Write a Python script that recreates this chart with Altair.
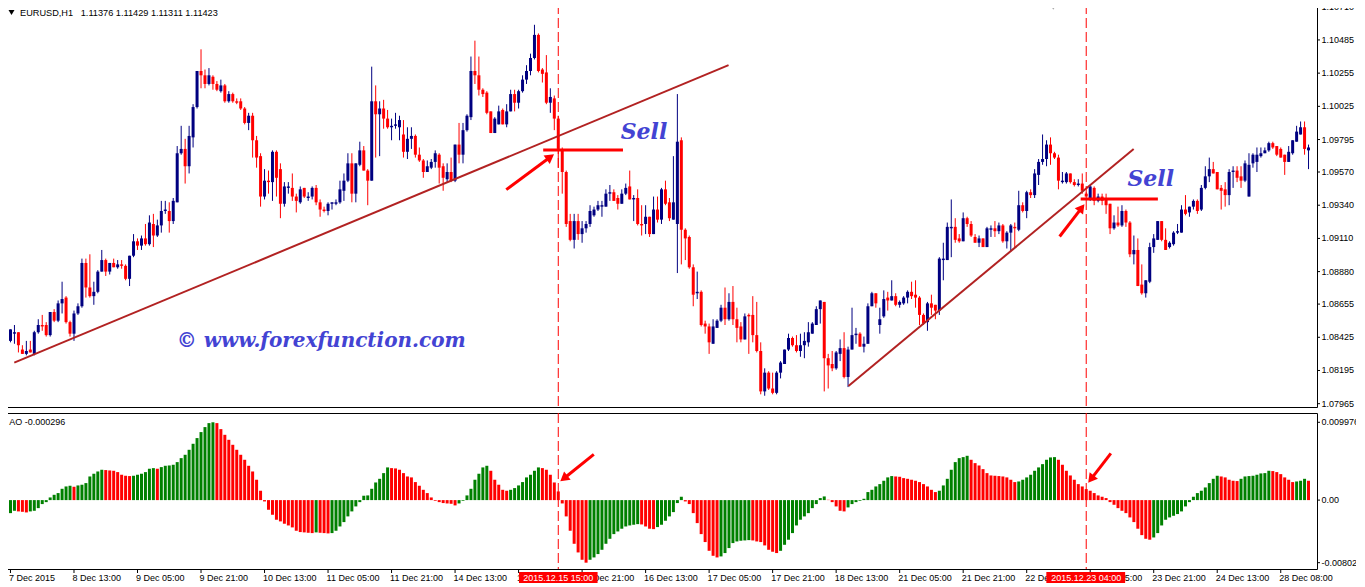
import altair as alt
import pandas as pd

# ---------------- price data (EURUSD H1), bar index 0..327 ----------------
opens = [
1.0840,1.0845,1.0846,1.0834,1.0831,1.0834,1.0831,1.0846,1.0851,1.0851,
1.0844,1.0860,1.0854,1.0866,1.0870,1.0853,1.0845,1.0859,1.0864,1.0894,
1.0877,1.0871,1.0874,1.0888,1.0896,1.0888,1.0894,1.0891,1.0893,1.0892,
1.0883,1.0899,1.0909,1.0906,1.0911,1.0907,1.0921,1.0913,1.0920,1.0930,
1.0930,1.0923,1.0936,1.0970,1.0973,1.0961,1.0981,1.1002,1.1027,1.1024,
1.1018,1.1023,1.1018,1.1013,1.1017,1.1006,1.1011,1.1006,1.1006,1.1001,
1.0991,1.0996,1.0979,1.0968,1.0940,1.0951,1.0950,1.0971,1.0959,1.0935,
1.0946,1.0946,1.0940,1.0936,1.0946,1.0939,1.0940,1.0946,1.0936,1.0931,
1.0930,1.0935,1.0935,1.0936,1.0944,1.0951,1.0963,1.0942,1.0962,1.0972,
1.0958,1.0951,1.1006,1.0997,1.1001,1.0994,1.0988,1.0989,1.0988,1.0983,
1.0971,1.0980,1.0982,1.0969,1.0965,1.0957,1.0960,1.0964,1.0969,1.0961,
1.0952,1.0957,1.0951,1.0976,1.0969,1.0986,1.0995,1.1027,1.1024,1.1014,
1.1012,1.0999,1.0984,1.0990,1.1000,1.0990,1.0999,1.1011,1.1005,1.1013,
1.1021,1.1027,1.1036,1.1052,1.1028,1.1026,1.1005,1.1008,1.0994,1.0972,
1.0957,1.0923,1.0910,1.0923,1.0914,1.0918,1.0921,1.0927,1.0931,1.0933,
1.0933,1.0942,1.0943,1.0939,1.0935,1.0942,1.0947,1.0938,1.0939,1.0921,
1.0921,1.0926,1.0914,1.0931,1.0924,1.0945,1.0936,1.0924,1.0921,1.0979,
1.0917,1.0912,1.0891,1.0873,1.0874,1.0852,1.0850,1.0838,1.0849,1.0854,
1.0863,1.0855,1.0867,1.0855,1.0850,1.0841,1.0858,1.0858,1.0844,1.0833,
1.0805,1.0818,1.0807,1.0804,1.0818,1.0824,1.0834,1.0842,1.0837,1.0833,
1.0837,1.0839,1.0845,1.0851,1.0862,1.0867,1.0828,1.0824,1.0821,1.0831,
1.0835,1.0815,1.0834,1.0844,1.0845,1.0836,1.0838,1.0864,1.0873,1.0851,
1.0857,1.0870,1.0868,1.0871,1.0865,1.0866,1.0870,1.0874,1.0872,1.0870,
1.0858,1.0853,1.0866,1.0865,1.0861,1.0896,1.0896,1.0918,1.0919,1.0911,
1.0909,1.0925,1.0921,1.0912,1.0908,1.0911,1.0905,1.0917,1.0918,1.0916,
1.0920,1.0909,1.0915,1.0919,1.0917,1.0934,1.0930,1.0943,1.0941,1.0955,
1.0964,1.0966,1.0976,1.0970,1.0967,1.0950,1.0950,1.0956,1.0950,1.0948,
1.0949,1.0942,1.0938,1.0946,1.0937,1.0940,1.0938,1.0935,1.0918,1.0922,
1.0920,1.0930,1.0922,1.0900,1.0903,1.0879,1.0873,1.0881,1.0905,1.0910,
1.0923,1.0910,1.0905,1.0907,1.0915,1.0915,1.0931,1.0929,1.0933,1.0937,
1.0931,1.0946,1.0954,1.0959,1.0957,1.0946,1.0945,1.0941,1.0957,1.0958,
1.0954,1.0951,1.0940,1.0963,1.0964,1.0968,1.0970,1.0972,1.0977,1.0975,
1.0973,1.0969,1.0964,1.0970,1.0978,1.0983,1.0988,1.0972]

highs = [
1.0848,1.0851,1.0846,1.0837,1.0840,1.0840,1.0847,1.0855,1.0858,1.0853,
1.0860,1.0862,1.0868,1.0881,1.0871,1.0854,1.0861,1.0866,1.0897,1.0897,
1.0900,1.0881,1.0889,1.0903,1.0897,1.0894,1.0897,1.0896,1.0896,1.0893,
1.0899,1.0914,1.0911,1.0913,1.0921,1.0927,1.0928,1.0924,1.0937,1.0937,
1.0936,1.0939,1.0975,1.0989,1.0980,1.0989,1.1004,1.1027,1.1042,1.1028,
1.1029,1.1024,1.1020,1.1021,1.1018,1.1013,1.1012,1.1008,1.1008,1.1002,
1.0998,1.0998,1.0982,1.0970,1.0959,1.0958,1.0972,1.0972,1.0963,1.0950,
1.0950,1.0956,1.0942,1.0947,1.0946,1.0943,1.0947,1.0948,1.0938,1.0933,
1.0936,1.0936,1.0938,1.0951,1.0956,1.0970,1.0970,1.0963,1.0978,1.0975,
1.0959,1.1030,1.1017,1.1006,1.1007,1.1000,1.0994,1.0998,1.0996,1.0993,
1.0988,1.0988,1.0983,1.0974,1.0966,1.0965,1.0966,1.0972,1.0970,1.0963,
1.0963,1.0967,1.0976,1.0991,1.0991,1.0997,1.1037,1.1048,1.1037,1.1015,
1.1013,1.0999,1.0995,1.1003,1.1001,1.1004,1.1014,1.1014,1.1014,1.1024,
1.1031,1.1039,1.1059,1.1053,1.1029,1.1038,1.1015,1.1010,1.0996,1.0974,
1.0958,1.0928,1.0928,1.0928,1.0923,1.0923,1.0934,1.0933,1.0937,1.0937,
1.0945,1.0948,1.0945,1.0941,1.0945,1.0949,1.0958,1.0941,1.0945,1.0934,
1.0934,1.0926,1.0940,1.0940,1.0946,1.0951,1.0939,1.0968,1.1011,1.0981,
1.0918,1.0913,1.0893,1.0888,1.0875,1.0854,1.0852,1.0855,1.0855,1.0865,
1.0877,1.0873,1.0878,1.0863,1.0853,1.0859,1.0859,1.0871,1.0867,1.0839,
1.0821,1.0819,1.0818,1.0819,1.0826,1.0834,1.0845,1.0843,1.0844,1.0845,
1.0846,1.0853,1.0853,1.0864,1.0868,1.0867,1.0831,1.0833,1.0833,1.0841,
1.0846,1.0836,1.0863,1.0849,1.0846,1.0843,1.0866,1.0874,1.0873,1.0863,
1.0875,1.0874,1.0882,1.0873,1.0868,1.0871,1.0875,1.0881,1.0882,1.0871,
1.0859,1.0867,1.0872,1.0865,1.0898,1.0908,1.0922,1.0938,1.0925,1.0914,
1.0929,1.0926,1.0923,1.0914,1.0913,1.0911,1.0919,1.0920,1.0923,1.0922,
1.0921,1.0916,1.0921,1.0922,1.0944,1.0936,1.0944,1.0945,1.0959,1.0966,
1.0983,1.0979,1.0981,1.0971,1.0969,1.0957,1.0957,1.0956,1.0952,1.0952,
1.0956,1.0943,1.0948,1.0947,1.0942,1.0942,1.0942,1.0935,1.0927,1.0933,
1.0934,1.0931,1.0923,1.0913,1.0911,1.0893,1.0882,1.0908,1.0914,1.0923,
1.0923,1.0918,1.0909,1.0916,1.0921,1.0934,1.0941,1.0933,1.0938,1.0938,
1.0948,1.0961,1.0967,1.0964,1.0957,1.0948,1.0950,1.0959,1.0961,1.0961,
1.0961,1.0965,1.0970,1.0970,1.0974,1.0974,1.0974,1.0978,1.0978,1.0975,
1.0974,1.0969,1.0975,1.0979,1.0989,1.0992,1.0992,1.0976]

lows = [
1.0839,1.0838,1.0832,1.0831,1.0830,1.0832,1.0830,1.0845,1.0847,1.0843,
1.0843,1.0853,1.0853,1.0859,1.0852,1.0843,1.0840,1.0858,1.0863,1.0870,
1.0870,1.0865,1.0873,1.0888,1.0885,1.0886,1.0891,1.0890,1.0890,1.0882,
1.0878,1.0898,1.0903,1.0903,1.0906,1.0906,1.0905,1.0912,1.0915,1.0928,
1.0915,1.0921,1.0936,1.0969,1.0949,1.0956,1.0974,1.1001,1.1015,1.1015,
1.1017,1.1014,1.1013,1.1012,1.1005,1.1005,1.1005,1.1004,1.1000,1.0990,
1.0986,1.0967,1.0960,1.0933,1.0938,1.0942,1.0937,1.0940,1.0925,1.0933,
1.0942,1.0937,1.0929,1.0935,1.0939,1.0937,1.0938,1.0934,1.0926,1.0929,
1.0927,1.0931,1.0934,1.0935,1.0937,1.0950,1.0936,1.0936,1.0961,1.0958,
1.0934,1.0951,1.0967,1.0968,1.0987,1.0987,1.0979,1.0987,1.0979,1.0967,
1.0966,1.0973,1.0967,1.0964,1.0953,1.0957,1.0959,1.0960,1.0949,1.0944,
1.0950,1.0950,1.0950,1.0963,1.0963,1.0985,1.0993,1.1018,1.1010,1.1009,
1.0997,1.0984,1.0984,1.0990,1.0990,1.0988,1.0999,1.0999,1.1001,1.1012,
1.1018,1.1024,1.1035,1.1026,1.1019,1.1004,1.0998,1.0986,1.0960,1.0942,
1.0919,1.0909,1.0904,1.0910,1.0908,1.0915,1.0919,1.0926,1.0930,1.0926,
1.0933,1.0937,1.0937,1.0931,1.0935,1.0941,1.0938,1.0923,1.0920,1.0913,
1.0914,1.0912,1.0914,1.0922,1.0921,1.0934,1.0923,1.0924,1.0887,1.0893,
1.0896,1.0890,1.0864,1.0869,1.0850,1.0845,1.0831,1.0838,1.0849,1.0853,
1.0851,1.0854,1.0851,1.0839,1.0839,1.0841,1.0831,1.0839,1.0832,1.0803,
1.0802,1.0806,1.0803,1.0803,1.0814,1.0824,1.0833,1.0836,1.0832,1.0829,
1.0828,1.0836,1.0845,1.0851,1.0852,1.0805,1.0807,1.0819,1.0820,1.0826,
1.0814,1.0808,1.0834,1.0838,1.0836,1.0832,1.0838,1.0864,1.0863,1.0845,
1.0856,1.0861,1.0868,1.0864,1.0863,1.0865,1.0866,1.0869,1.0863,1.0851,
1.0851,1.0847,1.0858,1.0855,1.0858,1.0882,1.0896,1.0898,1.0908,1.0908,
1.0909,1.0919,1.0912,1.0908,1.0905,1.0905,1.0905,1.0912,1.0912,1.0914,
1.0908,1.0904,1.0902,1.0905,1.0916,1.0929,1.0925,1.0939,1.0939,1.0948,
1.0962,1.0961,1.0962,1.0966,1.0945,1.0949,1.0949,1.0949,1.0947,1.0947,
1.0942,1.0938,1.0937,1.0934,1.0936,1.0934,1.0928,1.0914,1.0917,1.0919,
1.0919,1.0919,1.0898,1.0893,1.0878,1.0872,1.0870,1.0880,1.0901,1.0910,
1.0909,1.0903,1.0904,1.0906,1.0914,1.0915,1.0927,1.0926,1.0931,1.0928,
1.0930,1.0945,1.0950,1.0956,1.0945,1.0931,1.0933,1.0934,1.0946,1.0950,
1.0946,1.0950,1.0940,1.0960,1.0957,1.0967,1.0970,1.0971,1.0973,1.0968,
1.0967,1.0955,1.0964,1.0969,1.0978,1.0983,1.0969,1.0959]

closes = [
1.0848,1.0846,1.0837,1.0831,1.0833,1.0832,1.0846,1.0851,1.0850,1.0844,
1.0860,1.0854,1.0866,1.0869,1.0853,1.0845,1.0859,1.0864,1.0894,1.0877,
1.0871,1.0874,1.0888,1.0896,1.0888,1.0894,1.0891,1.0893,1.0892,1.0883,
1.0899,1.0909,1.0906,1.0911,1.0907,1.0922,1.0913,1.0920,1.0930,1.0931,
1.0923,1.0937,1.0970,1.0973,1.0961,1.0982,1.1002,1.1027,1.1024,1.1018,
1.1024,1.1018,1.1014,1.1017,1.1006,1.1011,1.1006,1.1005,1.1001,1.0991,
1.0996,1.0979,1.0967,1.0940,1.0951,1.0950,1.0971,1.0953,1.0935,1.0947,
1.0947,1.0940,1.0937,1.0945,1.0940,1.0940,1.0946,1.0936,1.0931,1.0930,
1.0935,1.0936,1.0936,1.0945,1.0951,1.0963,1.0942,1.0963,1.0972,1.0958,
1.0951,1.1006,1.0997,1.1001,1.0994,1.0988,1.0989,1.0990,1.0993,1.0971,
1.0980,1.0982,1.0969,1.0965,1.0957,1.0961,1.0964,1.0970,1.0960,1.0953,
1.0957,1.0951,1.0976,1.0969,1.0986,1.0996,1.1027,1.1024,1.1014,1.1011,
1.0998,1.0984,1.0994,1.0999,1.0990,1.0999,1.1011,1.1005,1.1013,1.1021,
1.1027,1.1036,1.1052,1.1027,1.1025,1.1005,1.1009,1.0994,1.0973,1.0957,
1.0921,1.0910,1.0923,1.0914,1.0918,1.0921,1.0930,1.0931,1.0934,1.0934,
1.0942,1.0943,1.0937,1.0935,1.0942,1.0946,1.0938,1.0939,1.0921,1.0920,
1.0926,1.0914,1.0931,1.0924,1.0945,1.0935,1.0925,1.0936,1.0978,1.0917,
1.0911,1.0891,1.0872,1.0874,1.0851,1.0850,1.0839,1.0850,1.0854,1.0863,
1.0855,1.0867,1.0855,1.0849,1.0841,1.0857,1.0857,1.0844,1.0833,1.0805,
1.0818,1.0807,1.0804,1.0818,1.0825,1.0834,1.0842,1.0837,1.0833,1.0837,
1.0840,1.0846,1.0852,1.0862,1.0868,1.0828,1.0823,1.0821,1.0832,1.0835,
1.0815,1.0834,1.0844,1.0845,1.0836,1.0838,1.0864,1.0873,1.0866,1.0855,
1.0869,1.0868,1.0871,1.0865,1.0867,1.0870,1.0874,1.0871,1.0870,1.0858,
1.0852,1.0866,1.0863,1.0861,1.0897,1.0897,1.0919,1.0919,1.0910,1.0909,
1.0925,1.0921,1.0913,1.0908,1.0911,1.0905,1.0918,1.0918,1.0916,1.0920,
1.0909,1.0915,1.0920,1.0918,1.0934,1.0930,1.0943,1.0941,1.0956,1.0964,
1.0966,1.0976,1.0970,1.0967,1.0951,1.0951,1.0956,1.0950,1.0948,1.0949,
1.0944,1.0940,1.0947,1.0937,1.0940,1.0937,1.0934,1.0918,1.0922,1.0920,
1.0930,1.0922,1.0900,1.0903,1.0878,1.0873,1.0882,1.0905,1.0911,1.0923,
1.0910,1.0903,1.0908,1.0915,1.0916,1.0931,1.0928,1.0933,1.0937,1.0930,
1.0946,1.0954,1.0959,1.0956,1.0945,1.0944,1.0941,1.0957,1.0958,1.0953,
1.0951,1.0963,1.0962,1.0969,1.0969,1.0970,1.0972,1.0977,1.0974,1.0969,
1.0967,1.0964,1.0971,1.0979,1.0985,1.0988,1.0973,1.0974]

# ---------------- Awesome Oscillator values ----------------
ao = [
-0.00167,-0.00137,-0.00145,-0.00150,-0.00158,-0.00145,-0.00137,-0.00103,-0.00051,-0.00026,
0.00034,0.00068,0.00090,0.00145,0.00175,0.00184,0.00171,0.00188,0.00197,0.00218,
0.00303,0.00338,0.00367,0.00389,0.00385,0.00380,0.00376,0.00359,0.00325,0.00312,
0.00308,0.00312,0.00325,0.00338,0.00359,0.00402,0.00410,0.00402,0.00423,0.00440,
0.00444,0.00453,0.00487,0.00538,0.00581,0.00645,0.00722,0.00795,0.00872,0.00936,
0.00987,0.009976,0.00987,0.00910,0.00837,0.00773,0.00709,0.00645,0.00581,0.00517,
0.00440,0.00367,0.00261,0.00120,-0.00017,-0.00124,-0.00188,-0.00252,-0.00273,-0.00303,
-0.00325,-0.00350,-0.00393,-0.00410,-0.00414,-0.00419,-0.00423,-0.00414,-0.00419,-0.00423,
-0.00427,-0.00423,-0.00393,-0.00338,-0.00282,-0.00209,-0.00145,-0.00081,-0.00026,0.00056,
0.00060,0.00145,0.00226,0.00273,0.00346,0.00419,0.00410,0.00406,0.00389,0.00346,
0.00303,0.00291,0.00231,0.00184,0.00132,0.00090,0.00034,-0.00009,-0.00026,-0.00038,
-0.00043,-0.00047,-0.00068,-0.00043,-0.00009,0.00060,0.00145,0.00261,0.00338,0.00419,
0.00440,0.00376,0.00261,0.00197,0.00132,0.00120,0.00132,0.00154,0.00188,0.00231,
0.00291,0.00325,0.00376,0.00419,0.00410,0.00389,0.00325,0.00226,0.00111,-0.00043,
-0.00209,-0.00393,-0.00560,-0.00671,-0.00765,-0.008023,-0.00765,-0.00735,-0.00692,-0.00637,
-0.00560,-0.00496,-0.00436,-0.00402,-0.00367,-0.00338,-0.00325,-0.00316,-0.00308,-0.00312,
-0.00338,-0.00367,-0.00372,-0.00346,-0.00316,-0.00265,-0.00209,-0.00154,-0.00038,0.00043,
-0.00017,-0.00051,-0.00167,-0.00295,-0.00436,-0.00538,-0.00650,-0.00714,-0.00735,-0.00722,
-0.00679,-0.00615,-0.00551,-0.00530,-0.00521,-0.00517,-0.00513,-0.00517,-0.00530,-0.00538,
-0.00581,-0.00637,-0.00662,-0.00679,-0.00650,-0.00573,-0.00508,-0.00423,-0.00325,-0.00252,
-0.00209,-0.00167,-0.00103,-0.00051,0.00026,0.00047,0.00004,-0.00026,-0.00081,-0.00137,
-0.00145,-0.00094,-0.00051,-0.00026,-0.00009,0.00017,0.00103,0.00132,0.00175,0.00205,
0.00248,0.00291,0.00308,0.00303,0.00299,0.00282,0.00273,0.00261,0.00248,0.00231,
0.00205,0.00175,0.00132,0.00103,0.00120,0.00188,0.00273,0.00389,0.00487,0.00538,
0.00551,0.00568,0.00517,0.00474,0.00444,0.00397,0.00346,0.00316,0.00312,0.00308,
0.00303,0.00291,0.00261,0.00231,0.00239,0.00261,0.00291,0.00325,0.00376,0.00419,
0.00461,0.00517,0.00547,0.00551,0.00517,0.00453,0.00376,0.00316,0.00261,0.00205,
0.00175,0.00141,0.00120,0.00090,0.00060,0.00043,0.00026,-0.00026,-0.00060,-0.00103,
-0.00137,-0.00167,-0.00222,-0.00282,-0.00367,-0.00449,-0.00496,-0.00508,-0.00479,-0.00423,
-0.00325,-0.00252,-0.00222,-0.00201,-0.00179,-0.00145,-0.00081,-0.00026,0.00043,0.00090,
0.00120,0.00162,0.00218,0.00273,0.00312,0.00303,0.00291,0.00261,0.00248,0.00244,
0.00273,0.00303,0.00308,0.00312,0.00325,0.00342,0.00346,0.00376,0.00372,0.00359,
0.00333,0.00291,0.00261,0.00231,0.00239,0.00248,0.00273,0.00248]

# ---------------- axis ticks / labels ----------------
time_tick_bars = list(range(0, 321, 16))
time_labels = ["7 Dec 2015", "8 Dec 13:00", "9 Dec 05:00", "9 Dec 21:00", "10 Dec 13:00",
               "11 Dec 05:00", "11 Dec 21:00", "14 Dec 13:00", "15 Dec 05:00", "15 Dec 21:00",
               "16 Dec 13:00", "17 Dec 05:00", "17 Dec 21:00", "18 Dec 13:00", "21 Dec 05:00",
               "21 Dec 21:00", "22 Dec 13:00", "23 Dec 05:00", "23 Dec 21:00", "24 Dec 13:00",
               "28 Dec 08:00"]
price_ticks = [1.10710, 1.10485, 1.10255, 1.10025, 1.09795, 1.09570, 1.09340,
               1.09110, 1.08880, 1.08655, 1.08425, 1.08195, 1.07965]
ao_ticks = [0.009976, 0.0, -0.008023]
ao_tick_labels = ["0.009976", "0.00", "-0.008023"]

# ---------------- annotations ----------------
trend_x1 = [0.95, 211.1]
trend_y1 = [1.08249, 1.08087]
trend_x2 = [180.9, 282.95]
trend_y2 = [1.10311, 1.09730]

sell_x1 = [134.2, 269.6]
sell_x2 = [154.3, 289.05]
sell_price = [1.09723, 1.09383]

sell_text_x = [159.6, 287.25]
sell_text_y = [1.09846, 1.09524]

vline_bars = [138, 271]
vline_labels = ["2015.12.15 15:00", "2015.12.23 04:00"]
vbox_left = [128.1, 260.95]
vbox_right = [147.9, 280.8]

arrow_main_x1 = [124.9, 264.3]
arrow_main_y1 = [1.09448, 1.09123]
arrow_main_x2 = [136.0, 269.85]
arrow_main_y2 = [1.09674, 1.09322]
arrow_main_angle = [53.7, 37.6]

arrow_ao_x1 = [146.95, 277.2]
arrow_ao_y1 = [0.00587, 0.00600]
arrow_ao_x2 = [139.4, 272.2]
arrow_ao_y2 = [0.00277, 0.00269]
arrow_ao_angle = [231.3, 217.9]

header_text = "EURUSD,H1\u00a0\u00a0\u00a01.11376 1.11429 1.11311 1.11423"
ao_text = "AO -0.000296"
copyright_text = "\u00a9 www.forexfunction.com"

# ---------------- frames ----------------
n = len(opens)
bars = pd.DataFrame({"i": list(range(n)), "open": opens, "high": highs,
                     "low": lows, "close": closes})
bars["dir"] = ["bull" if c >= o else "bear" for o, c in zip(opens, closes)]

ao_df = pd.DataFrame({"i": list(range(n)), "ao": ao})
ao_df["dir"] = ["rise"] + ["rise" if ao[k] > ao[k - 1] else "fall" for k in range(1, n)]

xs = alt.Scale(domain=[-0.625, 327.875], nice=False, zero=False)
ys = alt.Scale(domain=[1.07942, 1.10734], nice=False, zero=False)
ays = alt.Scale(domain=[-0.008833, 0.011166], nice=False, zero=False)

candle_colors = alt.Scale(domain=["bull", "bear"], range=["#000080", "#ff0000"])
ao_colors = alt.Scale(domain=["rise", "fall"], range=["#008000", "#ff0000"])

RED = "#ff0000"
BLUE_TXT = "#4343d3"
AXFONT = "Liberation Sans"

X_none = lambda f: alt.X(f, scale=xs, axis=None)
Y_none = lambda f: alt.Y(f, scale=ys, axis=None)

wicks = alt.Chart(bars).mark_rule(strokeWidth=1).encode(
    x=X_none("i:Q"), y=Y_none("low:Q"), y2="high:Q",
    color=alt.Color("dir:N", scale=candle_colors, legend=None),
)
bodies = alt.Chart(bars).mark_bar(size=3).encode(
    x=X_none("i:Q"), y=Y_none("open:Q"), y2="close:Q",
    color=alt.Color("dir:N", scale=candle_colors, legend=None),
)

# right price scale (ticks + labels positioned by the y scale)
ptick_df = pd.DataFrame({"v": price_ticks, "lab": [f"{v:.5f}" for v in price_ticks]})
price_tick_marks = alt.Chart(ptick_df).mark_rule(color="black", strokeWidth=1).encode(
    y=Y_none("v:Q"), x=alt.value(1314), x2=alt.value(1317))
price_tick_labels = alt.Chart(ptick_df).mark_text(
    align="left", baseline="middle", font=AXFONT, fontSize=9, color="black").encode(
    y=Y_none("v:Q"), x=alt.value(1318.5), text="lab:N")

trend_df = pd.DataFrame({"x1": trend_x1, "y1": trend_y1, "x2": trend_x2, "y2": trend_y2})
trend = alt.Chart(trend_df).mark_rule(color="#b22222", strokeWidth=2).encode(
    x=X_none("x1:Q"), y=Y_none("y1:Q"), x2="x2:Q", y2="y2:Q")

sell_df = pd.DataFrame({"x1": sell_x1, "x2": sell_x2, "p": sell_price})
sell_lines = alt.Chart(sell_df).mark_rule(color=RED, strokeWidth=3).encode(
    x=X_none("x1:Q"), x2="x2:Q", y=Y_none("p:Q"))

vl_df = pd.DataFrame({"i": vline_bars, "lab": vline_labels,
                      "l": vbox_left, "r": vbox_right})
vlines_main = alt.Chart(vl_df).mark_rule(color=RED, strokeWidth=1, strokeDash=[10, 4]).encode(
    x=X_none("i:Q"))

am_df = pd.DataFrame({"x1": arrow_main_x1, "y1": arrow_main_y1, "x2": arrow_main_x2,
                      "y2": arrow_main_y2, "a": arrow_main_angle})
arrow_main_shaft = alt.Chart(am_df).mark_rule(color=RED, strokeWidth=3).encode(
    x=X_none("x1:Q"), y=Y_none("y1:Q"), x2="x2:Q", y2="y2:Q")
arrow_main_head = alt.Chart(am_df).mark_point(shape="triangle-up", filled=True, opacity=1,
                                              color=RED, size=110).encode(
    x=X_none("x2:Q"), y=Y_none("y2:Q"), angle=alt.Angle("a:Q", scale=None))

st_df = pd.DataFrame({"x": sell_text_x, "y": sell_text_y, "t": ["Sell", "Sell"]})
sell_text = alt.Chart(st_df).mark_text(font="DejaVu Serif", fontSize=22, fontWeight="bold",
                                       fontStyle="italic", color=BLUE_TXT,
                                       align="center", baseline="middle").encode(
    x=X_none("x:Q"), y=Y_none("y:Q"), text="t:N")

cp_df = pd.DataFrame({"x": [41.9], "y": [1.08396], "t": [copyright_text]})
copyright = alt.Chart(cp_df).mark_text(font="DejaVu Serif", fontSize=20, fontWeight="bold",
                                       fontStyle="italic", color=BLUE_TXT,
                                       align="left", baseline="middle").encode(
    x=X_none("x:Q"), y=Y_none("y:Q"), text="t:N")

hdr_df = pd.DataFrame({"t": [header_text]})
header = alt.Chart(hdr_df).mark_text(font=AXFONT, fontSize=9.2, color="black",
                                     align="left", baseline="middle").encode(
    x=alt.value(17), y=alt.value(8.7), text="t:N")
header_tri = alt.Chart(hdr_df).mark_point(shape="triangle-down", filled=True, opacity=1,
                                          color="black", size=36).encode(
    x=alt.value(8.5), y=alt.value(8.5))
shift_tri = alt.Chart(hdr_df).mark_point(shape="triangle-down", filled=True, opacity=1,
                                         color="#a8a8a8", size=60).encode(
    x=alt.value(1050.3), y=alt.value(2.5))

main = alt.layer(
    wicks, bodies, trend, vlines_main, sell_lines, arrow_main_shaft, arrow_main_head,
    sell_text, copyright, header, header_tri, shift_tri, price_tick_marks, price_tick_labels
).properties(width=1314, height=403)

# ---------------- AO panel ----------------
AX = lambda f: alt.X(f, scale=xs, axis=None)
AY = lambda f: alt.Y(f, scale=ays, axis=None)

ao_bars = alt.Chart(ao_df).mark_bar(size=3).encode(
    x=AX("i:Q"), y=AY("ao:Q"), y2=alt.datum(0),
    color=alt.Color("dir:N", scale=ao_colors, legend=None),
)

atick_df = pd.DataFrame({"v": ao_ticks, "lab": ao_tick_labels})
ao_tick_marks = alt.Chart(atick_df).mark_rule(color="black", strokeWidth=1).encode(
    y=AY("v:Q"), x=alt.value(1314), x2=alt.value(1317))
ao_tick_labels_l = alt.Chart(atick_df).mark_text(
    align="left", baseline="middle", font=AXFONT, fontSize=9, color="black").encode(
    y=AY("v:Q"), x=alt.value(1318.5), text="lab:N")

ttick_df = pd.DataFrame({"v": time_tick_bars, "lab": time_labels})
time_tick_marks = alt.Chart(ttick_df).mark_rule(color="black", strokeWidth=1).encode(
    x=AX("v:Q"), y=alt.value(156), y2=alt.value(160))
time_tick_labels = alt.Chart(ttick_df).mark_text(
    align="left", baseline="middle", dx=-1.5, font=AXFONT, fontSize=9, color="black").encode(
    x=AX("v:Q"), y=alt.value(165.3), text="lab:N")

vlines_ao = alt.Chart(vl_df).mark_rule(color=RED, strokeWidth=1, strokeDash=[10, 4]).encode(
    x=AX("i:Q"))
vbox = alt.Chart(vl_df).mark_rect(color=RED).encode(
    x=AX("l:Q"), x2="r:Q", y=alt.value(159), y2=alt.value(171))
vbox_text = alt.Chart(vl_df).mark_text(font=AXFONT, fontSize=9, color="white",
                                       align="center", baseline="middle").encode(
    x=AX("i:Q"), y=alt.value(165.3), text="lab:N")

aa_df = pd.DataFrame({"x1": arrow_ao_x1, "y1": arrow_ao_y1, "x2": arrow_ao_x2,
                      "y2": arrow_ao_y2, "a": arrow_ao_angle})
arrow_ao_shaft = alt.Chart(aa_df).mark_rule(color=RED, strokeWidth=3).encode(
    x=AX("x1:Q"), y=AY("y1:Q"), x2="x2:Q", y2="y2:Q")
arrow_ao_head = alt.Chart(aa_df).mark_point(shape="triangle-up", filled=True, opacity=1,
                                            color=RED, size=110).encode(
    x=AX("x2:Q"), y=AY("y2:Q"), angle=alt.Angle("a:Q", scale=None))

ao_lab_df = pd.DataFrame({"t": [ao_text]})
ao_label = alt.Chart(ao_lab_df).mark_text(font=AXFONT, fontSize=9, color="black",
                                          align="left", baseline="middle").encode(
    x=alt.value(6.3), y=alt.value(9.3), text="t:N")

ao_panel = alt.layer(
    ao_bars, vlines_ao, arrow_ao_shaft, arrow_ao_head,
    ao_tick_marks, ao_tick_labels_l, time_tick_marks, time_tick_labels,
    vbox, vbox_text, ao_label
).properties(width=1314, height=156)

chart = alt.vconcat(main, ao_panel, spacing=2).resolve_scale(
    color="independent"
).properties(
    padding={"left": -6, "top": -6, "right": -7, "bottom": -2},
    background="white",
).configure_view(
    stroke="black", strokeWidth=1
)

chart.save("out.html", embed_options={"renderer": "svg", "actions": False})
